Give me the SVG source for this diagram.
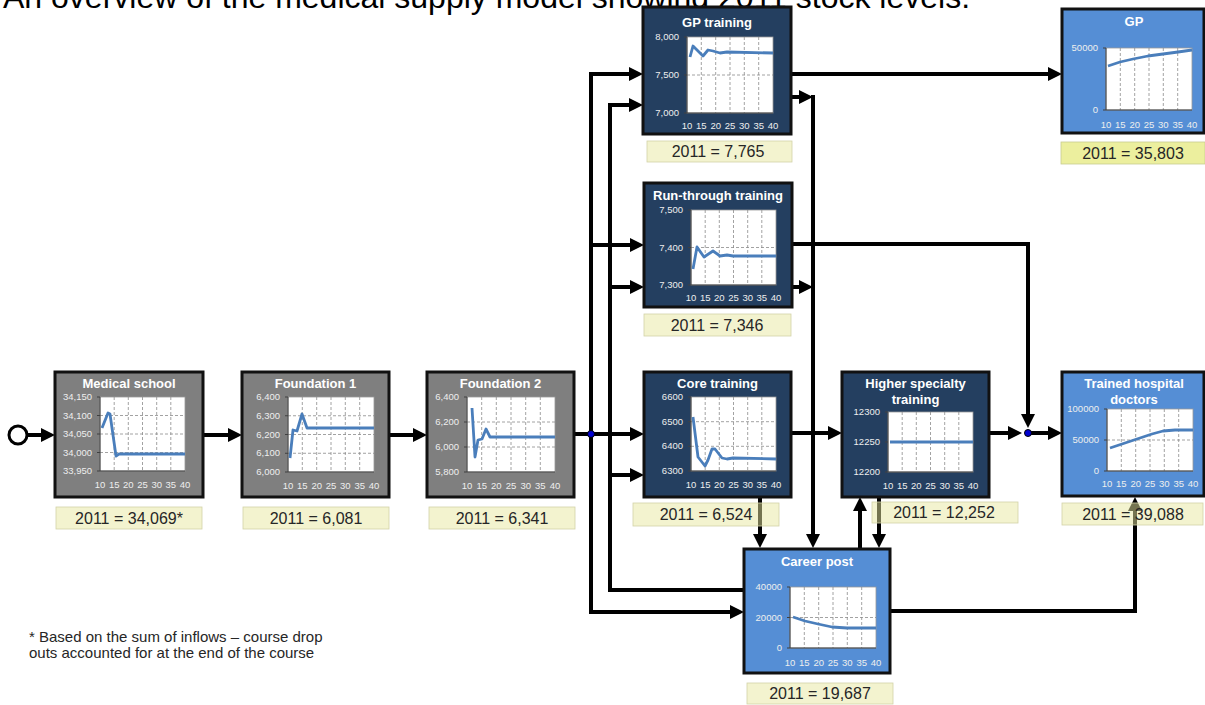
<svg xmlns="http://www.w3.org/2000/svg" width="1205" height="705" viewBox="0 0 1205 705">
<style>
.bx{stroke:#111;stroke-width:3}
.gray{fill:#7f7f7f}
.navy{fill:#243f60}
.blue{fill:#558ed5}
.ttl{font:bold 13px "Liberation Sans",Arial,sans-serif;fill:#fff;text-anchor:middle}
.plot{fill:#fff;stroke:#9a9a9a;stroke-width:0.8}
.grid{fill:none;stroke:#8a8a8a;stroke-width:0.8;stroke-dasharray:3 2}
.ax{fill:none;stroke:#404040;stroke-width:1}
.yl{font:9.5px "Liberation Sans",Arial,sans-serif;fill:#eeeeee;text-anchor:end}
.xl{font:9.5px "Liberation Sans",Arial,sans-serif;fill:#eeeeee;text-anchor:middle}
.ser{fill:none;stroke:#4a7ebb;stroke-width:2.8;stroke-linejoin:round}
.lbl{fill:#e7e79f;fill-opacity:0.5;stroke:#d2d2a8;stroke-width:0.8}
.lbl2{fill:#ecef9e;stroke:#c9cc90;stroke-width:0.8}
.lt{font:16px "Liberation Sans",Arial,sans-serif;fill:#262626;text-anchor:middle}
.con{fill:none;stroke:#000;stroke-width:4;stroke-linejoin:miter}
.arr{marker-end:url(#ah)}
.dot{fill:#0000d0;stroke:#000;stroke-width:1}
.note{font:15px "Liberation Sans",Arial,sans-serif;fill:#262626}
</style>
<defs>
<marker id="ah" viewBox="0 0 14 14" refX="6" refY="7" markerWidth="14" markerHeight="14" markerUnits="userSpaceOnUse" orient="auto">
<path d="M0,0 L14,7 L0,14 z" fill="#000"/>
</marker>
</defs>
<rect x="0" y="0" width="1205" height="705" fill="#fff"/>
<text x="3" y="8" font-family="Liberation Sans, Arial, sans-serif" font-size="32" fill="#000">An overview of the medical supply model showing 2011 stock levels.</text>

<g id="connectors">
<circle cx="18" cy="435" r="9" fill="#fff" stroke="#000" stroke-width="3"/>
<path class="con arr" d="M27,435H47"/>
<path class="con arr" d="M203,435H234"/>
<path class="con arr" d="M389,435H419"/>
<path class="con arr" d="M574,434H636"/>
<path class="con arr" d="M591,434V74H635"/>
<path class="con arr" d="M591,245H636"/>
<path class="con arr" d="M591,434V612H736"/>
<path class="con arr" d="M744,590H610V105H635"/>
<path class="con arr" d="M610,287H636"/>
<path class="con arr" d="M610,475H636"/>
<path class="con arr" d="M791,74H1054"/>
<path class="con arr" d="M791,97H805"/>
<path class="con arr" d="M813,95V540"/>
<path class="con arr" d="M791,287H805"/>
<path class="con arr" d="M791,244H1028V420"/>
<path class="con arr" d="M791,433H834"/>
<path class="con arr" d="M760,497V540"/>
<path class="con arr" d="M860,549V505"/>
<path class="con arr" d="M879,497V540"/>
<path class="con arr" d="M989,433H1014"/>
<path class="con arr" d="M1028,433H1054"/>
<path class="con arr" d="M890,611H1135V505"/>
<circle class="dot" cx="591" cy="434" r="3.5"/>
<circle class="dot" cx="1028" cy="433" r="3.5"/>
</g>

<g id="medical-school">
<rect class="bx gray" x="55" y="372" width="148" height="125"/>
<text class="ttl" x="129" y="388">Medical school</text>
<rect class="plot" x="100" y="397" width="85" height="74"/>
<path class="grid" d="M114.2,397V471M128.3,397V471M142.5,397V471M156.7,397V471M170.8,397V471M100,415.5H185M100,434H185M100,452.5H185"/>
<path class="ax" d="M100,397V471H185M97,397H100M97,415.5H100M97,434H100M97,452.5H100M97,471H100"/>
<g class="yl"><text x="92" y="400">34,150</text><text x="92" y="418.5">34,100</text><text x="92" y="437">34,050</text><text x="92" y="455.5">34,000</text><text x="92" y="474">33,950</text></g>
<g class="xl"><text x="100" y="488">10</text><text x="114.2" y="488">15</text><text x="128.3" y="488">20</text><text x="142.5" y="488">25</text><text x="156.7" y="488">30</text><text x="170.8" y="488">35</text><text x="185" y="488">40</text></g>
<polyline class="ser" points="102,428 108,413 110,414 116,456 119,454 185,454"/>
<rect class="lbl" x="56" y="507" width="146" height="22"/>
<text class="lt" x="129" y="524">2011 = 34,069*</text>
</g>

<g id="foundation-1">
<rect class="bx gray" x="242" y="372" width="147" height="125"/>
<text class="ttl" x="315.5" y="388">Foundation 1</text>
<rect class="plot" x="288" y="397" width="86" height="75"/>
<path class="grid" d="M302.3,397V472M316.7,397V472M331,397V472M345.3,397V472M359.7,397V472M288,415.75H374M288,434.5H374M288,453.25H374"/>
<path class="ax" d="M288,397V472H374M285,397H288M285,415.75H288M285,434.5H288M285,453.25H288M285,472H288"/>
<g class="yl"><text x="280" y="400">6,400</text><text x="280" y="418.75">6,300</text><text x="280" y="437.5">6,200</text><text x="280" y="456.25">6,100</text><text x="280" y="475">6,000</text></g>
<g class="xl"><text x="288" y="489">10</text><text x="302.3" y="489">15</text><text x="316.7" y="489">20</text><text x="331" y="489">25</text><text x="345.3" y="489">30</text><text x="359.7" y="489">35</text><text x="374" y="489">40</text></g>
<polyline class="ser" points="290,458 293,430 297,431 302,414 307,428 374,428"/>
<rect class="lbl" x="243" y="507" width="146" height="22"/>
<text class="lt" x="316" y="524">2011 = 6,081</text>
</g>

<g id="foundation-2">
<rect class="bx gray" x="427" y="372" width="147" height="125"/>
<text class="ttl" x="500.5" y="388">Foundation 2</text>
<rect class="plot" x="467" y="397" width="88" height="75"/>
<path class="grid" d="M481.7,397V472M496.3,397V472M511,397V472M525.7,397V472M540.3,397V472M467,422H555M467,447H555"/>
<path class="ax" d="M467,397V472H555M464,397H467M464,422H467M464,447H467M464,472H467"/>
<g class="yl"><text x="459" y="400">6,400</text><text x="459" y="425">6,200</text><text x="459" y="450">6,000</text><text x="459" y="475">5,800</text></g>
<g class="xl"><text x="467" y="489">10</text><text x="481.7" y="489">15</text><text x="496.3" y="489">20</text><text x="511" y="489">25</text><text x="525.7" y="489">30</text><text x="540.3" y="489">35</text><text x="555" y="489">40</text></g>
<polyline class="ser" points="472,408 475,457 478,440 482,439 486,429 490,437 555,437"/>
<rect class="lbl" x="429" y="507" width="146" height="22"/>
<text class="lt" x="502" y="524">2011 = 6,341</text>
</g>

<g id="gp-training">
<rect class="bx navy" x="643" y="7" width="148" height="127"/>
<text class="ttl" x="717" y="27">GP training</text>
<rect class="plot" x="687" y="37" width="86" height="76"/>
<path class="grid" d="M701.3,37V113M715.7,37V113M730,37V113M744.3,37V113M758.7,37V113M687,75H773"/>
<path class="ax" d="M687,37V113H773M684,37H687M684,75H687M684,113H687"/>
<g class="yl"><text x="679" y="40">8,000</text><text x="679" y="78">7,500</text><text x="679" y="116">7,000</text></g>
<g class="xl"><text x="687" y="129">10</text><text x="701.3" y="129">15</text><text x="715.7" y="129">20</text><text x="730" y="129">25</text><text x="744.3" y="129">30</text><text x="758.7" y="129">35</text><text x="773" y="129">40</text></g>
<polyline class="ser" points="690,57 693,46 703,56 708,50 713,51 720,53 727,52 773,53"/>
<rect class="lbl" x="647" y="141" width="145" height="21"/>
<text class="lt" x="718" y="157">2011 = 7,765</text>
</g>

<g id="run-through-training">
<rect class="bx navy" x="644" y="183" width="148" height="124"/>
<text class="ttl" x="718" y="200">Run-through training</text>
<rect class="plot" x="691" y="210" width="85" height="75"/>
<path class="grid" d="M705.2,210V285M719.3,210V285M733.5,210V285M747.7,210V285M761.8,210V285M691,247.5H776"/>
<path class="ax" d="M691,210V285H776M688,210H691M688,247.5H691M688,285H691"/>
<g class="yl"><text x="683" y="213">7,500</text><text x="683" y="250.5">7,400</text><text x="683" y="288">7,300</text></g>
<g class="xl"><text x="691" y="301">10</text><text x="705.2" y="301">15</text><text x="719.3" y="301">20</text><text x="733.5" y="301">25</text><text x="747.7" y="301">30</text><text x="761.8" y="301">35</text><text x="776" y="301">40</text></g>
<polyline class="ser" points="693,269 697,247 704,257 713,251 720,256 727,255 733,256 776,256"/>
<rect class="lbl" x="644" y="314" width="147" height="22"/>
<text class="lt" x="717" y="331">2011 = 7,346</text>
</g>

<g id="core-training">
<rect class="bx navy" x="644" y="372" width="147" height="125"/>
<text class="ttl" x="717.5" y="388">Core training</text>
<rect class="plot" x="691" y="397" width="85" height="74"/>
<path class="grid" d="M705.2,397V471M719.3,397V471M733.5,397V471M747.7,397V471M761.8,397V471M691,421.7H776M691,446.3H776"/>
<path class="ax" d="M691,397V471H776M688,397H691M688,421.7H691M688,446.3H691M688,471H691"/>
<g class="yl"><text x="683" y="400">6600</text><text x="683" y="424.7">6500</text><text x="683" y="449.3">6400</text><text x="683" y="474">6300</text></g>
<g class="xl"><text x="691" y="488">10</text><text x="705.2" y="488">15</text><text x="719.3" y="488">20</text><text x="733.5" y="488">25</text><text x="747.7" y="488">30</text><text x="761.8" y="488">35</text><text x="776" y="488">40</text></g>
<polyline class="ser" points="693,417 698,457 705,466 708,460 712,449 715,449 722,458 727,459 733,458 776,459"/>
<rect class="lbl" x="633" y="503" width="146" height="23"/>
<text class="lt" x="706" y="520">2011 = 6,524</text>
</g>

<g id="higher-specialty-training">
<rect class="bx navy" x="842" y="372" width="147" height="125"/>
<text class="ttl" x="915.5" y="388">Higher specialty</text>
<text class="ttl" x="915.5" y="404">training</text>
<rect class="plot" x="888" y="412" width="85" height="60"/>
<path class="grid" d="M902.2,412V472M916.3,412V472M930.5,412V472M944.7,412V472M958.8,412V472"/>
<path class="ax" d="M888,412V472H973M885,412H888M885,442H888M885,472H888"/>
<g class="yl"><text x="880" y="415">12300</text><text x="880" y="445">12250</text><text x="880" y="475">12200</text></g>
<g class="xl"><text x="888" y="489">10</text><text x="902.2" y="489">15</text><text x="916.3" y="489">20</text><text x="930.5" y="489">25</text><text x="944.7" y="489">30</text><text x="958.8" y="489">35</text><text x="973" y="489">40</text></g>
<polyline class="ser" points="890,442 973,442"/>
<rect class="lbl" x="872" y="502" width="146" height="21"/>
<text class="lt" x="944" y="518">2011 = 12,252</text>
</g>

<g id="gp">
<rect class="bx blue" x="1062" y="9" width="142" height="124"/>
<text class="ttl" x="1134" y="26">GP</text>
<rect class="plot" x="1106" y="48" width="86" height="62"/>
<path class="grid" d="M1120.3,48V110M1134.7,48V110M1149,48V110M1163.3,48V110M1177.7,48V110"/>
<path class="ax" d="M1106,48V110H1192M1103,48H1106M1103,110H1106"/>
<g class="yl"><text x="1098" y="51">50000</text><text x="1098" y="113">0</text></g>
<g class="xl"><text x="1106" y="128">10</text><text x="1120.3" y="128">15</text><text x="1134.7" y="128">20</text><text x="1149" y="128">25</text><text x="1163.3" y="128">30</text><text x="1177.7" y="128">35</text><text x="1192" y="128">40</text></g>
<polyline class="ser" points="1108,66 1120,62 1133,59 1148,56 1163,54 1178,52 1192,50"/>
<rect class="lbl2" x="1061" y="142" width="144" height="22"/>
<text class="lt" x="1133" y="159">2011 = 35,803</text>
</g>

<g id="trained-hospital-doctors">
<rect class="bx blue" x="1062" y="372" width="142" height="124"/>
<text class="ttl" x="1134" y="388">Trained hospital</text>
<text class="ttl" x="1134" y="404">doctors</text>
<rect class="plot" x="1107" y="409" width="86" height="62"/>
<path class="grid" d="M1121.3,409V471M1135.7,409V471M1150,409V471M1164.3,409V471M1178.7,409V471M1107,440H1193"/>
<path class="ax" d="M1107,409V471H1193M1104,409H1107M1104,440H1107M1104,471H1107"/>
<g class="yl"><text x="1099" y="412">100000</text><text x="1099" y="443">50000</text><text x="1099" y="474">0</text></g>
<g class="xl"><text x="1107" y="487">10</text><text x="1121.3" y="487">15</text><text x="1135.7" y="487">20</text><text x="1150" y="487">25</text><text x="1164.3" y="487">30</text><text x="1178.7" y="487">35</text><text x="1193" y="487">40</text></g>
<polyline class="ser" points="1110,448 1125,443 1140,438 1152,434 1163,431 1175,430 1193,430"/>
<rect class="lbl" x="1062" y="503" width="141" height="22"/>
<text class="lt" x="1133" y="520">2011 = 39,088</text>
</g>

<g id="career-post">
<rect class="bx blue" x="744" y="549" width="146" height="124"/>
<text class="ttl" x="817" y="566">Career post</text>
<rect class="plot" x="790" y="587" width="86" height="61"/>
<path class="grid" d="M804.3,587V648M818.7,587V648M833,587V648M847.3,587V648M861.7,587V648M790,617.5H876"/>
<path class="ax" d="M790,587V648H876M787,587H790M787,617.5H790M787,648H790"/>
<g class="yl"><text x="782" y="590">40000</text><text x="782" y="620.5">20000</text><text x="782" y="651">0</text></g>
<g class="xl"><text x="790" y="666">10</text><text x="804.3" y="666">15</text><text x="818.7" y="666">20</text><text x="833" y="666">25</text><text x="847.3" y="666">30</text><text x="861.7" y="666">35</text><text x="876" y="666">40</text></g>
<polyline class="ser" points="793,617 805,621 818,624 832,627 847,628 876,628"/>
<rect class="lbl" x="747" y="683" width="146" height="21"/>
<text class="lt" x="820" y="699">2011 = 19,687</text>
</g>

<g id="footnote">
<text class="note" x="29" y="642">* Based on the sum of inflows – course drop</text>
<text class="note" x="29" y="658">outs accounted for at the end of the course</text>
</g>
</svg>
